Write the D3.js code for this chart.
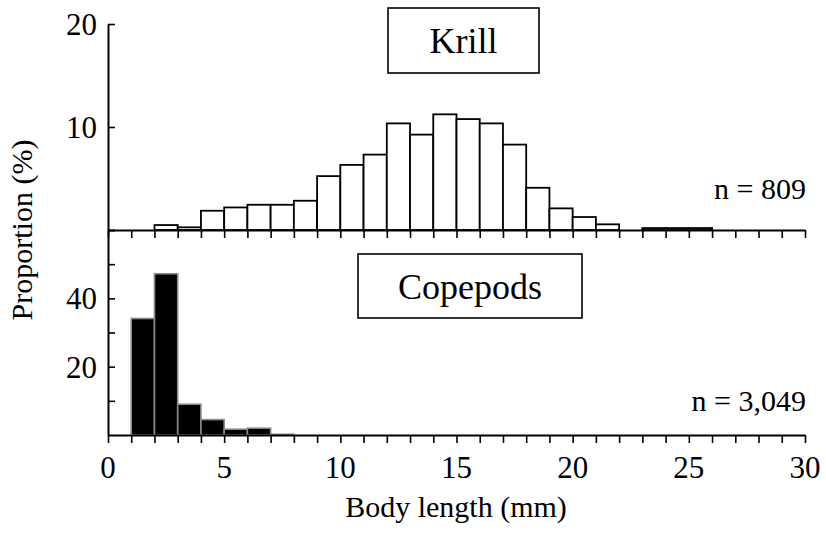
<!DOCTYPE html>
<html><head><meta charset="utf-8">
<script src="https://cdn.jsdelivr.net/npm/d3@7"></script>
<style>body{margin:0;background:#fff}svg{display:block}</style>
</head><body>
<script>
// Bin start values (mm), 1-mm bins
const binStarts = d3.range(0, 30);
// Krill proportions (%) per 1-mm bin
const krillValues = [0,0,0.48,0.26,1.87,2.19,2.45,2.45,2.84,5.23,6.32,7.32,10.35,9.26,11.23,10.77,10.35,8.29,4.10,2.10,1.26,0.55,0,0.19,0.19,0.19,0,0,0,0];
// Copepod proportions (%) per 1-mm bin
const copepodValues = [0,34.1,47.2,9.0,4.5,1.7,2.0,0.2,0,0,0,0,0,0,0,0,0,0,0,0,0,0,0,0,0,0,0,0,0,0];
const xTicks = [0,5,10,15,20,25,30];
const krillYTicks = [0,10,20];
const krillYLabels = [10,20];
const copeYTicks = [10,20,30,40,50,60];
const copeYLabels = [20,40];

const W = 826, H = 535;
const FONT = "Liberation Serif";
const svg = d3.select("body").append("svg").attr("width", W).attr("height", H)
  .attr("font-family", FONT);

const x = d3.scaleLinear().domain([0,30]).range([108,805]);
const yK = d3.scaleLinear().domain([0,20]).range([230,24]);
const yC = d3.scaleLinear().domain([0,60]).range([435,230]);

// Krill bars
svg.append("g").selectAll("rect").data(binStarts.map((b,i)=>({b,v:krillValues[i]})).filter(d=>d.v>0))
  .join("rect")
  .attr("x", d=>x(d.b)).attr("width", d=>x(d.b+1)-x(d.b))
  .attr("y", d=>yK(d.v)).attr("height", d=>yK(0)-yK(d.v))
  .attr("fill","#fff").attr("stroke","#000").attr("stroke-width",1.8);

// Copepod bars
svg.append("g").selectAll("rect").data(binStarts.map((b,i)=>({b,v:copepodValues[i]})).filter(d=>d.v>0))
  .join("rect")
  .attr("x", d=>x(d.b)).attr("width", d=>x(d.b+1)-x(d.b))
  .attr("y", d=>yC(d.v)).attr("height", d=>yC(0)-yC(d.v))
  .attr("fill","#000").attr("stroke","#8a8a8a").attr("stroke-width",1.6);

// x axes (ticks every mm, pointing down)
function xAxisAt(y){
  const g = svg.append("g").attr("transform",`translate(0,${y})`)
    .call(d3.axisBottom(x).tickValues(d3.range(0,31)).tickSize(8).tickSizeOuter(0).tickFormat(""));
  g.select(".domain").attr("stroke-width",2);
  g.selectAll(".tick line").attr("stroke-width",1.6);
  return g;
}
xAxisAt(230);
xAxisAt(435);
svg.append("g").selectAll("text").data(xTicks).join("text")
  .attr("x", d=>x(d)).attr("y", 478).attr("text-anchor","middle")
  .attr("font-family", FONT).attr("font-size",31).text(d=>d);

// y axes (inward ticks)
function yAxis(scale, ticks, labels){
  const g = svg.append("g").attr("transform","translate(108,0)")
    .call(d3.axisRight(scale).tickValues(ticks).tickSize(7).tickSizeOuter(0).tickFormat(""));
  g.select(".domain").attr("stroke-width",2);
  g.selectAll(".tick line").attr("stroke-width",1.6);
  svg.append("g").selectAll("text").data(labels).join("text")
    .attr("x", 97).attr("y", d=>scale(d)).attr("dy","0.35em")
    .attr("text-anchor","end").attr("font-family", FONT).attr("font-size",31).text(d=>d);
}
yAxis(yK, krillYTicks, krillYLabels);
yAxis(yC, copeYTicks, copeYLabels);

// Panel label boxes
function labelBox(x0,y0,w,h,txt){
  svg.append("rect").attr("x",x0).attr("y",y0).attr("width",w).attr("height",h)
    .attr("fill","#fff").attr("stroke","#000").attr("stroke-width",1.6);
  svg.append("text").attr("x",x0+w/2).attr("y",y0+h/2).attr("dy","0.35em")
    .attr("text-anchor","middle").attr("font-family", FONT).attr("font-size",36).text(txt);
}
labelBox(388,8,151,65,"Krill");
labelBox(358,254,224,64,"Copepods");

// n labels
svg.append("text").attr("x",806).attr("y",199).attr("text-anchor","end").attr("font-family", FONT).attr("font-size",30).text("n = 809");
svg.append("text").attr("x",806).attr("y",411).attr("text-anchor","end").attr("font-family", FONT).attr("font-size",30).text("n = 3,049");

// axis titles
svg.append("text").attr("transform","translate(32,230) rotate(-90)").attr("text-anchor","middle")
  .attr("font-family", FONT).attr("font-size",30).text("Proportion (%)");
svg.append("text").attr("x",456).attr("y",517).attr("text-anchor","middle")
  .attr("font-family", FONT).attr("font-size",30).text("Body length (mm)");
</script>
</body></html>
